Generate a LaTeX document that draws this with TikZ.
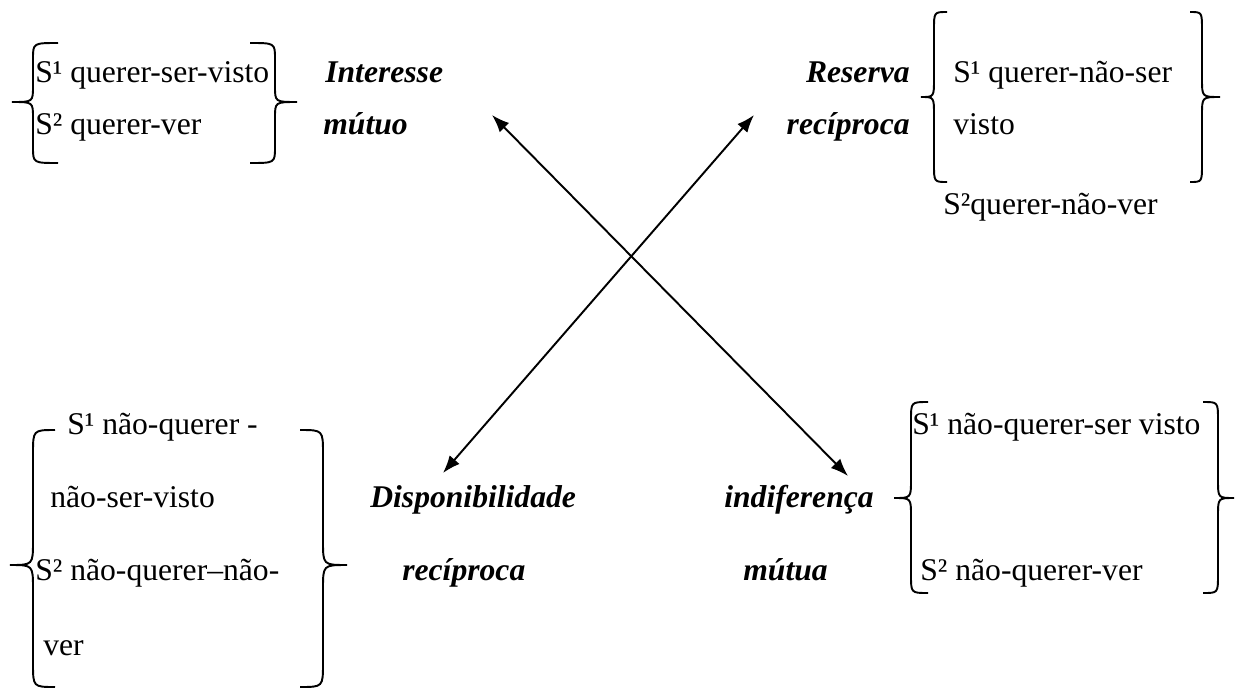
\documentclass[tikz,border=0pt]{standalone}
\usepackage{fontspec}
\setmainfont{Liberation Serif}
\usetikzlibrary{arrows.meta}
\newcommand{\curlybrace}[7]{%
  \draw[brc] (#1,#4) .. controls (#2,#4) .. (#2,{#4+#7}) -- (#2,{#5-#7})
    .. controls (#2,#5) .. (#3,#5) .. controls (#2,#5) .. (#2,{#5+#7})
    -- (#2,{#6-#7}) .. controls (#2,#6) .. (#1,#6);}
\begin{document}
\begin{tikzpicture}[x=0.02cm,y=-0.02cm,
    txt/.style={anchor=west,inner sep=0pt,text height=13pt,text depth=4.5pt,font=\fontsize{18}{22}\selectfont},
    lbl/.style={txt,font=\fontsize{18}{22}\selectfont\bfseries\itshape},
    brc/.style={line width=1.1pt},
    link/.style={{Latex[length=10pt,width=7.5pt]}-{Latex[length=10pt,width=7.5pt]},line width=1.1pt}]
  \useasboundingbox (0,0) rectangle (1235,690);

  \curlybrace{58}{33}{12}{43}{102}{163}{16}
  \curlybrace{250}{275}{297}{43}{102}{163}{16}
  \node[txt] (tlone) at (35,75) {S¹ querer-ser-visto};
  \node[txt] (tltwo) at (35,127) {S² querer-ver};
  \node[lbl] (interesse) at (325,75) {Interesse};
  \node[lbl] (mutuo) at (323,127) {mútuo};

  \node[lbl,anchor=east] (reserva) at (910,75) {Reserva};
  \node[lbl,anchor=east] (reciprocaA) at (910,127) {recíproca};
  \curlybrace{947}{934}{921}{12}{97}{182}{18}
  \curlybrace{1190}{1202}{1220}{12}{97}{182}{18}
  \node[txt] (trone) at (953,75) {S¹ querer-não-ser};
  \node[txt] (trtwo) at (953,127) {visto};
  \node[txt] (trthree) at (943,207) {S²querer-não-ver};

  \coordinate (nw) at (492,115);
  \coordinate (ne) at (754,115);
  \coordinate (sw) at (443,473);
  \coordinate (se) at (848,476);
  \draw[link] (nw) -- (se);
  \draw[link] (ne) -- (sw);

  \curlybrace{55}{33}{10}{430}{565}{687}{24}
  \curlybrace{300}{323}{347}{430}{565}{687}{24}
  \node[txt] (blone) at (67,427) {S¹ não-querer -};
  \node[txt] (bltwo) at (50,500) {não-ser-visto};
  \node[txt] (blthree) at (35,573) {S² não-querer–não-};
  \node[txt] (blfour) at (43,648) {ver};
  \node[lbl] (dispon) at (370,500) {Disponibilidade};
  \node[lbl] (reciprocaB) at (402,573) {recíproca};

  \node[lbl] (indif) at (724,500) {indiferença};
  \node[lbl] (mutua) at (743,573) {mútua};
  \curlybrace{928}{911}{894}{402}{498}{593}{18}
  \curlybrace{1203}{1218}{1234}{402}{498}{593}{18}
  \node[txt] (brone) at (912,427) {S¹ não-querer-ser visto};
  \node[txt] (brtwo) at (920,573) {S² não-querer-ver};
\end{tikzpicture}
\end{document}
